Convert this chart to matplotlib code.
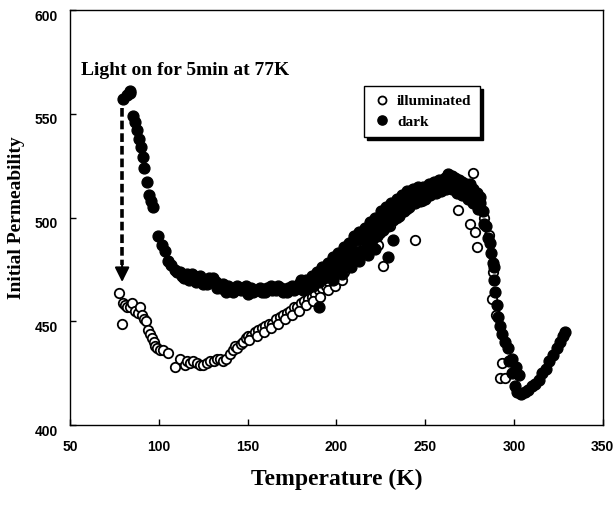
import matplotlib
matplotlib.use("Agg")
import matplotlib.pyplot as plt
from matplotlib.transforms import ScaledTranslation

# ---- data ----
dark_T = [80, 82, 83.5, 84, 85.5, 86.5, 87.7, 88.8, 90, 90.8, 91.6, 93.3, 94.5, 95.5, 96.7,
          99.5, 101.5, 103.5, 105, 107, 109, 112, 114, 116, 118.6, 121, 123, 125, 128, 130.5,
          133, 136, 138, 141.7, 144, 147, 150, 152, 155, 158, 161, 164, 167, 170, 173, 176, 179,
          180, 183, 186, 189, 192, 195, 198, 201, 204, 207, 210, 213, 216, 219, 222, 225, 228,
          231, 234, 237, 240, 243, 246, 249, 252, 255, 258, 261, 263, 265, 267, 269, 271, 273,
          275, 277, 279, 281, 282.5, 284, 285.5, 287, 288, 289, 289.5, 290.5, 292, 293, 295,
          296.5, 297.5, 299, 300.5, 302, 304, 306, 308, 310, 312, 314, 316, 318, 320, 322, 324,
          326, 327.5, 328.5,
          181, 184, 187, 190, 193, 196, 199, 202, 205, 208, 211, 214, 217, 220, 223, 226, 229,
          232, 235, 238, 241, 244, 247, 250, 253, 256, 259, 262, 265, 268, 271, 274, 277, 280,
          283, 190, 229, 232, 301, 303, 299, 286.5, 288.5, 291,
          185, 188, 191, 194, 197, 200, 203, 206, 209, 212, 215, 218, 221, 224, 227, 230, 233,
          236, 239, 242, 245, 248, 251, 254, 257, 260, 263, 266, 269, 272, 275, 278, 281,
          110, 113, 117, 120, 124, 127, 132, 135, 139, 143, 146, 149, 153, 157, 160, 163, 166,
          169, 172, 175, 178,
          198, 203, 208, 213, 218, 222]
dark_V = [557, 559, 561, 560, 549, 546, 542, 538, 534, 529, 524, 517, 511, 508, 505,
          491, 487, 484, 479, 477, 475, 474, 471, 473, 473, 469, 472, 468, 471, 471,
          466, 468, 464, 464, 467, 466, 463, 466, 465, 464, 466, 465, 467, 464, 466, 465, 468,
          470, 470, 472, 474, 476, 478, 481, 483, 486, 488, 491, 493, 495, 498, 500, 503, 505,
          507, 509, 511, 513, 514, 515, 515, 516, 517, 518, 519, 521, 520, 519, 518, 517, 516,
          516, 514, 512, 510, 503, 496, 490, 483, 478, 470, 464, 458, 448, 444, 440,
          437, 431, 425, 419, 416, 415, 416, 417, 419, 420, 422, 425, 427, 431, 434, 437,
          440, 443, 445,
          465, 466, 467, 469, 471, 472, 474, 476, 478, 480, 482, 484, 487, 489, 491, 494, 496,
          499, 501, 503, 505, 507, 508, 509, 511, 512, 513, 514, 514, 512, 511, 509, 507, 504,
          497, 457, 481, 489, 428, 424, 432, 488, 476, 452,
          468, 471, 473, 476, 477, 480, 481, 484, 485, 489, 490, 493, 494, 498, 499, 503, 504,
          507, 507, 511, 511, 513, 512, 515, 515, 517, 517, 517, 515, 514, 512, 510, 507,
          474, 472, 470, 472, 470, 468, 469, 466, 467, 465, 465, 467, 464, 466, 464, 467, 465,
          466, 464, 467, 466,
          470, 473, 476, 479, 482, 485]

illum_T = [77.6, 79.3, 80, 81, 82, 83.5, 85, 86.6, 88, 89.4, 90.5, 91.5, 92.8, 94, 95, 96, 97,
           97.8, 99, 100.6, 102.5, 105, 109, 112, 114.7, 116, 117.5, 119.5, 121.5, 123, 125,
           127, 129, 131, 132.7, 134.5, 136, 138, 140, 141.5, 143, 144, 146, 147.4, 149, 150,
           152, 154, 156, 158, 160, 162, 164, 166, 168, 170, 172, 174, 176, 178, 180, 182, 184,
           186, 188, 190, 192, 194, 196, 198, 200, 202, 204,
           151, 155, 159, 163, 167, 171, 175, 179, 183, 187, 191, 195, 199, 203,
           206, 210, 214, 218, 222, 224.5, 223.4, 226, 230, 234, 237.5, 240, 244, 248, 252, 256,
           260, 264, 268.5, 270, 273, 276.8, 275, 278, 279, 281, 283, 286, 288, 287.5, 290,
           293, 292, 294.7]
illum_V = [463.5, 448.7, 459, 458, 457, 457, 459, 455, 454, 457, 453, 451, 450, 446, 444, 442,
           440, 438, 437, 436, 436, 435, 428, 432, 429, 431, 430, 431, 430, 429, 429,
           430, 431, 431, 432, 432, 431, 432, 434.5, 436, 438, 437, 439, 440, 442, 443,
           443, 445, 446, 447, 448, 449, 449, 451, 452, 453, 454, 455, 457, 457, 459, 460, 461,
           462, 463, 465, 466, 467, 469, 470, 471, 472, 474,
           441, 443, 445, 447, 449, 451, 453, 455, 458, 460, 462, 465, 467, 470,
           476, 480, 484, 487, 491, 492.5, 486.7, 476.5, 496, 500, 509, 504, 489, 508, 511, 513,
           515, 517, 503.6, 516, 514, 521.4, 497, 493, 486, 508, 500, 491.6, 474, 461, 453,
           430, 422.6, 422.6]

xticks = [50, 100, 150, 200, 250, 300, 350]
yticks = [400, 450, 500, 550, 600]
annotation = "Light on for 5min at 77K"
arrow_T = 79.3
arrow_top, arrow_tip = 553, 469

serif = ["Liberation Serif", "DejaVu Serif"]
sans = ["Liberation Sans", "DejaVu Sans"]

fig = plt.figure(figsize=(6.15, 5.05), dpi=100)
ax = fig.add_axes([0.114, 0.158, 0.866, 0.822])

ax.plot(illum_T, illum_V, linestyle="none", marker="o", markersize=6.8,
        markerfacecolor="white", markeredgecolor="black", markeredgewidth=1.3,
        label="illuminated", zorder=3)
ax.plot(dark_T, dark_V, linestyle="none", marker="o", markersize=7.8,
        markerfacecolor="black", markeredgecolor="black", label="dark", zorder=4)

# dashed arrow
ax.plot([arrow_T, arrow_T], [arrow_top, arrow_tip + 8], color="black", lw=2.6,
        linestyle=(0, (2.4, 1.1)), zorder=2)
ax.annotate("", xy=(arrow_T, arrow_tip), xytext=(arrow_T, arrow_tip + 9),
            arrowprops=dict(arrowstyle="-|>", mutation_scale=22, color="black", lw=1.5,
                            shrinkA=0, shrinkB=0))
ax.text(56, 571, annotation, fontfamily=serif, fontweight="bold", fontsize=14,
        ha="left", va="center")

ax.set_xlim(50, 350)
ax.set_ylim(400, 600)
ax.set_xticks(xticks)
ax.set_yticks(yticks)
ax.tick_params(direction="in", length=4, width=1, pad=10, labelsize=10)
ax.tick_params(axis="y", pad=9)
for lab in ax.get_xticklabels() + ax.get_yticklabels():
    lab.set_fontfamily(sans)
    lab.set_fontweight("bold")
for lab in ax.get_yticklabels():
    lab.set_transform(lab.get_transform() + ScaledTranslation(0, -0.05, fig.dpi_scale_trans))
for lab in ax.get_xticklabels():
    lab.set_transform(lab.get_transform() + ScaledTranslation(0, -0.01, fig.dpi_scale_trans))

ax.set_xlabel("Temperature (K)", fontfamily=serif, fontweight="bold", fontsize=17)
ax.xaxis.set_label_coords(0.5, -0.105)
ax.set_ylabel("Initial Permeability", fontfamily=serif, fontweight="bold", fontsize=14)
ax.yaxis.set_label_coords(-0.084, 0.5)

for s in ax.spines.values():
    s.set_linewidth(1.0)
    s.set_color("black")

leg = ax.legend(loc="upper left", bbox_to_anchor=(0.552, 0.817), frameon=True,
                fancybox=False, shadow={"color": "black", "alpha": 1.0},
                prop=dict(family=serif, weight="bold", size=11), borderaxespad=0,
                handletextpad=0.4, borderpad=0.55, labelspacing=0.45, handlelength=1.2,
                markerscale=0.85)
leg.get_frame().set_edgecolor("black")
leg.get_frame().set_linewidth(1.0)

fig.savefig("out.png", dpi=100)
